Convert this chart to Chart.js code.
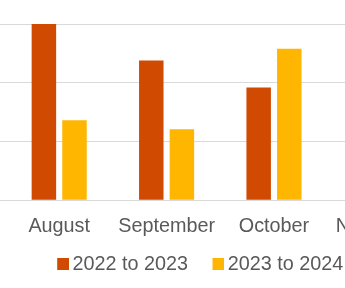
<!DOCTYPE html>
<html>
<head>
<meta charset="utf-8">
<script src="https://cdn.jsdelivr.net/npm/chart.js@4"></script>
<style>
  html, body { margin: 0; padding: 0; background: #fff; }
  body { width: 345px; height: 288px; overflow: hidden; position: relative; }
  #myChart { position: absolute; left: -48px; top: 0; }
</style>
</head>
<body>
<canvas id="myChart" width="489" height="284"></canvas>
<script>
// months on the x axis (November is cut off at the right edge)
const categories = ['August', 'September', 'October', 'November'];
const seriesLabels = ['2022 to 2023', '2023 to 2024'];
const seriesColors = ['#D04A02', '#FFB600'];
const values2223 = [150, 119, 96, null];
const values2324 = [68, 60.5, 129, null];
const yTicks = [0, 50, 100, 150];

const textColor = '#595959';
const gridColor = '#d9d9d9';
const font = { family: "'Liberation Sans', Arial, sans-serif", size: 19.8 };

// legend marker: small square sitting at the right of a transparent strip
function legendBox(color) {
  const c = document.createElement('canvas');
  c.width = 26;
  c.height = 12;
  const g = c.getContext('2d');
  g.fillStyle = color;
  g.fillRect(14, 0, 12, 12);
  return c;
}
const legendBoxes = seriesColors.map(legendBox);

const ctx = document.getElementById('myChart').getContext('2d');

new Chart(ctx, {
  type: 'bar',
  data: {
    labels: categories,
    datasets: [{
      label: seriesLabels[0],
      data: values2223,
      backgroundColor: seriesColors[0],
    }, {
      label: seriesLabels[1],
      data: values2324,
      backgroundColor: seriesColors[1],
    }],
  },
  options: {
    responsive: false,
    animation: false,
    categoryPercentage: 0.57,
    barPercentage: 0.8,
    layout: { padding: { top: 24 } },
    scales: {
      x: {
        grid: { display: false, drawTicks: false },
        border: { display: false },
        ticks: { color: textColor, font: font, padding: 14, maxRotation: 0, autoSkip: false },
        afterFit: (scale) => { scale.height = 37; },
      },
      y: {
        min: yTicks[0],
        max: yTicks[yTicks.length - 1],
        ticks: { stepSize: yTicks[1] - yTicks[0], color: textColor, font: { size: 12 }, padding: 3 },
        grid: { color: gridColor, drawTicks: true, tickLength: 10 },
        border: { display: false },
        afterFit: (scale) => { scale.width = 53.5; },
      },
    },
    plugins: {
      legend: {
        position: 'bottom',
        labels: {
          usePointStyle: true,
          boxWidth: 12.9,
          boxHeight: 12,
          padding: 17,
          color: textColor,
          font: font,
          generateLabels: (chart) =>
            Chart.defaults.plugins.legend.labels.generateLabels(chart)
              .map((item, i) => ({ ...item, pointStyle: legendBoxes[i] })),
        },
      },
      tooltip: { enabled: false },
    },
  },
});
</script>
</body>
</html>
